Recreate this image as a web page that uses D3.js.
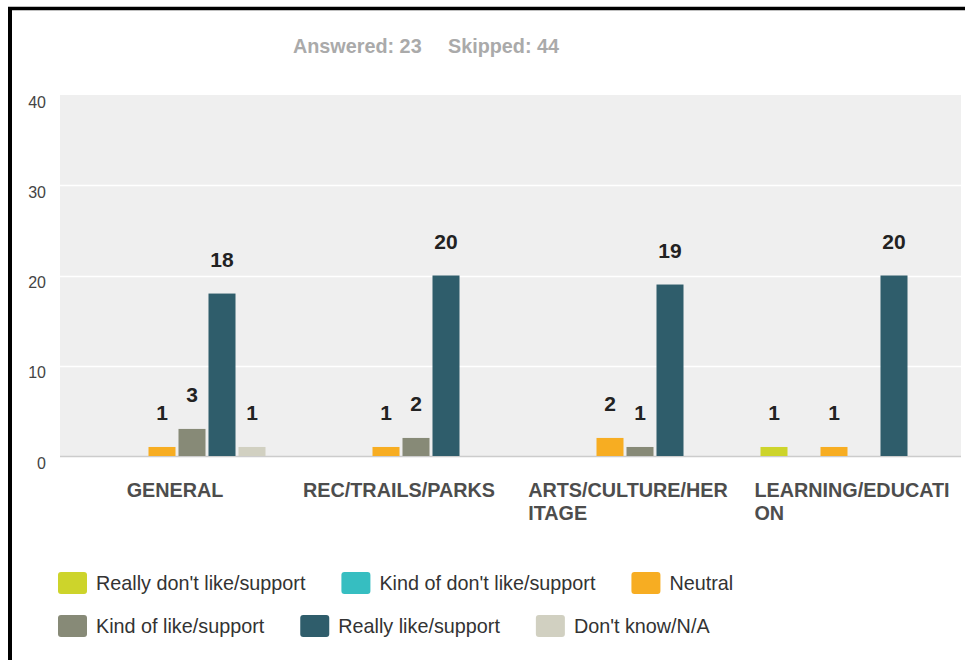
<!DOCTYPE html>
<html>
<head>
<meta charset="utf-8">
<script src="https://cdn.jsdelivr.net/npm/d3@7"></script>
<style>
  body { margin: 0; background: #fff; }
  svg { display: block; font-family: "Liberation Sans", Arial, sans-serif; }
</style>
</head>
<body>
<div id="chart"></div>
<script>
const width = 965;
const height = 660;

// Data
const categories = ["GENERAL", "REC/TRAILS/PARKS", "ARTS/CULTURE/HERITAGE", "LEARNING/EDUCATION"];
const seriesNames = ["Really don't like/support", "Kind of don't like/support", "Neutral",
    "Kind of like/support", "Really like/support", "Don't know/N/A"];
const seriesColors = ["#cdd42b", "#36bec1", "#f7ad22", "#878a77", "#2f5d6b", "#d1d0c1"];
const reallyDontLike = [0, 0, 0, 1];
const kindOfDontLike = [0, 0, 0, 0];
const neutral = [1, 1, 2, 1];
const kindOfLike = [3, 2, 1, 0];
const reallyLike = [18, 20, 19, 20];
const dontKnow = [1, 0, 0, 0];
const yTicks = [0, 10, 20, 30, 40];
const answered = 23;
const skipped = 44;

const seriesValues = [reallyDontLike, kindOfDontLike, neutral, kindOfLike, reallyLike, dontKnow];

const plot = { left: 60, right: 961, top: 95, bottom: 456 };

const svg = d3.select("#chart")
    .append("svg")
    .attr("width", width)
    .attr("height", height);

// Frame
svg.append("line").attr("x1", 10).attr("x2", 10).attr("y1", 7).attr("y2", height)
    .attr("stroke", "#000").attr("stroke-width", 4);
svg.append("line").attr("x1", 8).attr("x2", width).attr("y1", 8.5).attr("y2", 8.5)
    .attr("stroke", "#000").attr("stroke-width", 3.5);

// Header
svg.append("text")
    .attr("x", 293).attr("y", 53)
    .attr("font-size", 19.8).attr("font-weight", "bold").attr("fill", "#aaa")
    .text(`Answered: ${answered}`);
svg.append("text")
    .attr("x", 448).attr("y", 53)
    .attr("font-size", 19.8).attr("font-weight", "bold").attr("fill", "#aaa")
    .text(`Skipped: ${skipped}`);

// Scales
const x0 = d3.scaleBand()
    .domain(categories)
    .range([65, 961]);

const x1 = d3.scaleBand()
    .domain(d3.range(seriesNames.length))
    .range([22, 202])
    .paddingInner(0.1)
    .paddingOuter(0.05);

const y = d3.scaleLinear()
    .domain([0, 40])
    .range([plot.bottom, plot.top]);

// Plot background and grid
svg.append("rect")
    .attr("x", plot.left).attr("y", plot.top)
    .attr("width", plot.right - plot.left).attr("height", plot.bottom - plot.top)
    .attr("fill", "#efefef");

svg.append("g")
    .selectAll("line")
    .data(yTicks.filter(d => d > 0 && d < 40))
    .join("line")
    .attr("x1", plot.left).attr("x2", plot.right)
    .attr("y1", d => Math.round(y(d)) + 0.5).attr("y2", d => Math.round(y(d)) + 0.5)
    .attr("stroke", "#fff").attr("stroke-width", 1.5);

svg.append("line")
    .attr("x1", plot.left).attr("x2", plot.right)
    .attr("y1", plot.bottom + 0.5).attr("y2", plot.bottom + 0.5)
    .attr("stroke", "#ccc").attr("stroke-width", 1.5);

// Y axis labels
const yAxis = svg.append("g")
    .attr("transform", `translate(46,0)`)
    .call(d3.axisLeft(y).tickValues(yTicks).tickSize(0).tickPadding(0));
yAxis.select(".domain").remove();
yAxis.selectAll("text")
    .attr("font-family", "Liberation Sans, Arial, sans-serif")
    .attr("font-size", 16)
    .attr("fill", "#444")
    .attr("dy", 12);

// Bars
const rows = [];
categories.forEach((c, ci) => {
    seriesValues.forEach((vals, si) => {
        if (vals[ci] > 0) rows.push({ cat: c, s: si, v: vals[ci] });
    });
});

svg.append("g")
    .selectAll("rect")
    .data(rows)
    .join("rect")
    .attr("x", d => x0(d.cat) + x1(d.s))
    .attr("y", d => y(d.v))
    .attr("width", x1.bandwidth())
    .attr("height", d => y(0) - y(d.v))
    .attr("fill", d => seriesColors[d.s]);

svg.append("g")
    .selectAll("text")
    .data(rows)
    .join("text")
    .attr("x", d => x0(d.cat) + x1(d.s) + x1.bandwidth() / 2)
    .attr("y", d => y(d.v) - 27)
    .attr("text-anchor", "middle")
    .attr("font-size", 21)
    .attr("font-weight", "bold")
    .attr("fill", "#222")
    .text(d => d.v);

// Category labels, broken every 16 characters
function chunk(str, n) {
    const out = [];
    for (let i = 0; i < str.length; i += n) out.push(str.slice(i, i + n));
    return out;
}

categories.forEach(c => {
    const lines = chunk(c, 16);
    const g = svg.append("g");
    const texts = g.selectAll("text")
        .data(lines)
        .join("text")
        .attr("y", (d, i) => 497 + i * 23)
        .attr("font-size", 19.8)
        .attr("font-weight", "bold")
        .attr("fill", "#4d4d4d")
        .text(d => d);
    const maxW = d3.max(texts.nodes(), n => n.getComputedTextLength());
    const cx = x0(c) + x0.bandwidth() / 2 + (lines.length > 1 ? 3 : -2);
    texts.attr("x", cx - maxW / 2);
});

// Legend
const legendRows = [
    { y: 572, items: [0, 1, 2] },
    { y: 615, items: [3, 4, 5] }
];
legendRows.forEach(row => {
    let lx = 58;
    row.items.forEach(si => {
        svg.append("rect")
            .attr("x", lx).attr("y", row.y)
            .attr("width", 29).attr("height", 22)
            .attr("rx", 3)
            .attr("fill", seriesColors[si]);
        const t = svg.append("text")
            .attr("x", lx + 38).attr("y", row.y + 18)
            .attr("font-size", 19.8)
            .attr("fill", "#333")
            .text(seriesNames[si]);
        lx += 38 + t.node().getComputedTextLength() + 36;
    });
});
</script>
</body>
</html>
